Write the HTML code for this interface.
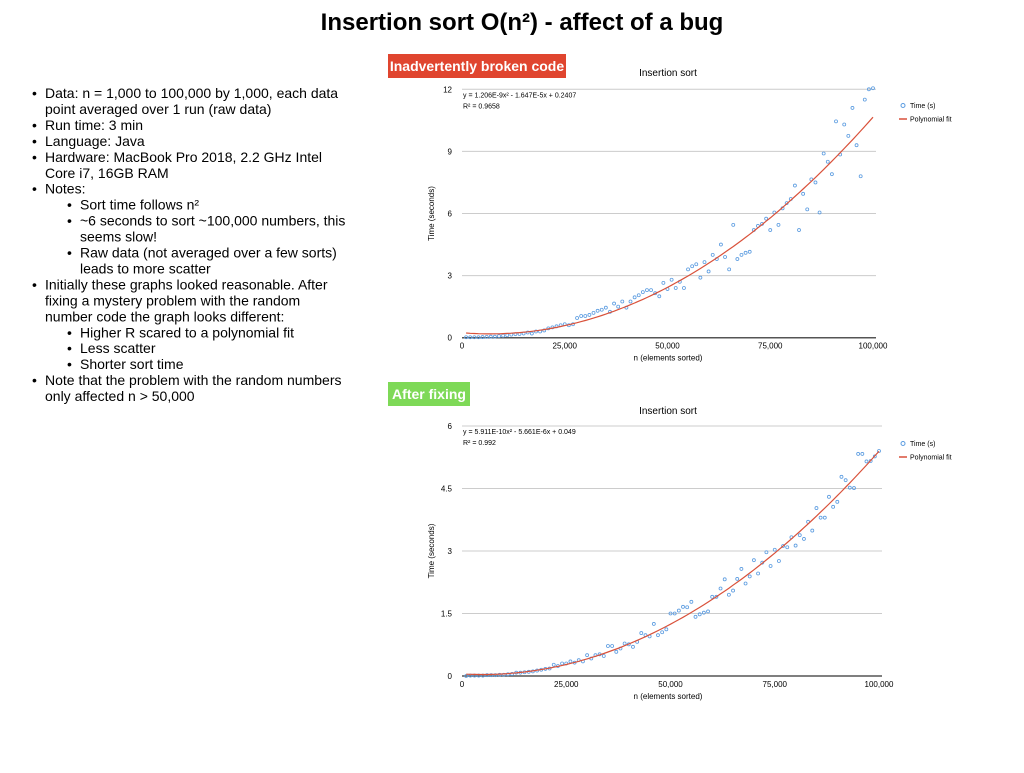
<!DOCTYPE html>
<html><head><meta charset="utf-8"><style>
body{margin:0;width:1024px;height:768px;background:#fff;overflow:hidden;font-family:"Liberation Sans",sans-serif}
</style></head><body>
<svg id="s" width="1024" height="768" xmlns="http://www.w3.org/2000/svg" font-family="Liberation Sans, sans-serif">
<text x="522" y="30" text-anchor="middle" font-size="24" font-weight="bold">Insertion sort O(n²) - affect of a bug</text>
<g id="notes" font-size="14" fill="#000"></g>
<rect x="388" y="54" width="178" height="24" fill="#e0452f"/>
<text x="477" y="71" text-anchor="middle" font-size="14" fill="#fff" font-weight="bold">Inadvertently broken code</text>
<rect x="388" y="382" width="82" height="24" fill="#7ed957"/>
<text x="429" y="399" text-anchor="middle" font-size="14" fill="#fff" font-weight="bold">After fixing</text>
</svg>
<script>
const NS="http://www.w3.org/2000/svg";
const svg=document.getElementById('s');
const noteLines=[
[0,true,"Data: n = 1,000 to 100,000 by 1,000, each data"],[0,false,"point averaged over 1 run (raw data)"],
[0,true,"Run time: 3 min"],[0,true,"Language: Java"],
[0,true,"Hardware: MacBook Pro 2018, 2.2 GHz Intel"],[0,false,"Core i7, 16GB RAM"],
[0,true,"Notes:"],[1,true,"Sort time follows n²"],[1,true,"~6 seconds to sort ~100,000 numbers, this"],[1,false,"seems slow!"],
[1,true,"Raw data (not averaged over a few sorts)"],[1,false,"leads to more scatter"],
[0,true,"Initially these graphs looked reasonable. After"],[0,false,"fixing a mystery problem with the random"],[0,false,"number code the graph looks different:"],
[1,true,"Higher R scared to a polynomial fit"],[1,true,"Less scatter"],[1,true,"Shorter sort time"],
[0,true,"Note that the problem with the random numbers"],[0,false,"only affected n > 50,000"]];
const ng=document.getElementById('notes');
noteLines.forEach((l,i)=>{const y=98+i*15.95;const tx=l[0]?80:45;
 if(l[1]){const b=document.createElementNS(NS,'text');b.setAttribute('x',tx-13);b.setAttribute('y',y);b.textContent='•';
 
 ng.appendChild(b);}
 const t=document.createElementNS(NS,'text');t.setAttribute('x',tx);t.setAttribute('y',y);t.textContent=l[2];
 
 ng.appendChild(t);});

const brokenTimes=[0.02,0.02,0.02,0.02,0.03,0.04,0.05,0.05,0.08,0.1,0.12,0.15,0.17,0.18,0.2,0.25,0.2,0.3,0.3,0.35,0.45,0.5,0.55,0.6,0.65,0.6,0.65,0.95,1.05,1.05,1.1,1.2,1.3,1.35,1.45,1.25,1.65,1.5,1.75,1.45,1.75,1.95,2.05,2.2,2.3,2.3,2.15,2.0,2.65,2.35,2.8,2.4,2.7,2.4,3.3,3.45,3.55,2.9,3.65,3.2,4.0,3.8,4.5,3.9,3.3,5.45,3.8,4.0,4.1,4.15,5.2,5.4,5.5,5.75,5.2,6.05,5.45,6.25,6.5,6.7,7.35,5.2,6.95,6.2,7.65,7.5,6.05,8.9,8.5,7.9,10.45,8.85,10.3,9.75,11.1,9.3,7.8,11.5,12.0,12.05];
const fixedTimes=[0.0,0.01,0.01,0.01,0.01,0.02,0.02,0.02,0.03,0.03,0.04,0.05,0.08,0.08,0.09,0.1,0.11,0.13,0.15,0.17,0.18,0.27,0.24,0.3,0.3,0.35,0.32,0.38,0.35,0.5,0.42,0.5,0.52,0.48,0.72,0.72,0.58,0.66,0.78,0.76,0.7,0.82,1.03,0.98,0.95,1.25,0.98,1.05,1.12,1.5,1.5,1.57,1.66,1.65,1.78,1.42,1.48,1.52,1.55,1.9,1.9,2.1,2.32,1.95,2.05,2.33,2.57,2.22,2.39,2.78,2.46,2.72,2.97,2.64,3.03,2.76,3.12,3.09,3.33,3.13,3.38,3.29,3.7,3.49,4.03,3.8,3.8,4.3,4.06,4.18,4.78,4.7,4.52,4.51,5.33,5.33,5.15,5.16,5.27,5.4];
const brokenFit=[1.206e-9,-1.647e-5,0.2407];
const fixedFit=[5.911e-10,-5.661e-6,0.049];
const xTicks=[0,25000,50000,75000,100000];
const xTickLabels=["0","25,000","50,000","75,000","100,000"];
const brokenYTicks=[0,3,6,9,12];
const fixedYTicks=[0,1.5,3,4.5,6];
const fixedYLabels=["0","1.5","3","4.5","6"];

function el(tag,attrs,parent,text){const e=document.createElementNS(NS,tag);for(const k in attrs)e.setAttribute(k,attrs[k]);if(text!=null)e.textContent=text;(parent||svg).appendChild(e);return e;}

function chart(o){
 const g=el('g',{});
 
 
 const X=v=>o.x0+(o.x1-o.x0)*v/100000;
 const Y=v=>o.y0-(o.y0-o.y1)*v/o.ymax;
 const tt=el('text',{x:668,y:o.titleY,'text-anchor':'middle','font-size':10},g,'Insertion sort');
 
 
 o.yTicks.forEach((t,i)=>{
  const ln=el('line',{x1:X(0),x2:X(100000)+3,y1:Y(t),y2:Y(t),stroke:t===0?'#555':'#ccc','stroke-width':t===0?1.5:1},g);
  
  
  const lb=el('text',{x:X(0)-10,y:Y(t)+3,'text-anchor':'end','font-size':8},g,o.yLabels?o.yLabels[i]:String(t));
  
  
 });
 xTicks.forEach((t,i)=>{
  const lb=el('text',{x:X(t),y:o.y0+11,'text-anchor':'middle','font-size':8},g,xTickLabels[i]);
  
  
 });
 const xt=el('text',{x:668,y:o.y0+23,'text-anchor':'middle','font-size':8},g,'n (elements sorted)');
 
 
 const cy=(o.y0+o.y1)/2;
 const yt=el('text',{x:434,y:cy,'text-anchor':'middle','font-size':8,transform:`rotate(-90 434 ${cy})`},g,'Time (seconds)');
 
 
 let d='';for(let n=1000;n<=100000;n+=1000){const c=o.fit;const v=c[0]*n*n+c[1]*n+c[2];d+=(d?'L':'M')+X(n).toFixed(1)+' '+Y(v).toFixed(1);}
 o.data.forEach((v,i)=>{
  const c=el('circle',{cx:X((i+1)*1000),cy:Y(v),r:1.5,fill:'none',stroke:'#5a9be0','stroke-width':0.8},g);
  
  
 });
 const p=el('path',{d:d,fill:'none',stroke:'#d9513a','stroke-width':1.2},g);
 
 
 const e1=el('text',{x:X(0)+1,y:o.y1+8,'font-size':7},g,o.eq);
 
 
 const e2=el('text',{x:X(0)+1,y:o.y1+19,'font-size':7},g,o.r2);
 
 
 const ly=o.legY;
 const lc=el('circle',{cx:903,cy:ly-2.5,r:2,fill:'none',stroke:'#5a9be0','stroke-width':1},g);
 
 
 const l1=el('text',{x:910,y:ly,'font-size':7},g,'Time (s)');
 
 
 const ll=el('line',{x1:899,x2:907,y1:ly+11,y2:ly+11,stroke:'#d9513a','stroke-width':1.5},g);
 
 
 const l2=el('text',{x:910,y:ly+13.5,'font-size':7},g,'Polynomial fit');
 
 
}
chart({name:'broken-chart',x0:462,x1:873,y0:337.7,y1:89.3,ymax:12,yTicks:brokenYTicks,data:brokenTimes,fit:brokenFit,
 eq:'y = 1.206E-9x² - 1.647E-5x + 0.2407',r2:'R² = 0.9658',titleY:76,legY:108});
chart({name:'fixed-chart',x0:462,x1:879,y0:676,y1:426,ymax:6,yTicks:fixedYTicks,yLabels:fixedYLabels,data:fixedTimes,fit:fixedFit,
 eq:'y = 5.911E-10x² - 5.661E-6x + 0.049',r2:'R² = 0.992',titleY:414,legY:446});
</script>
</body></html>
